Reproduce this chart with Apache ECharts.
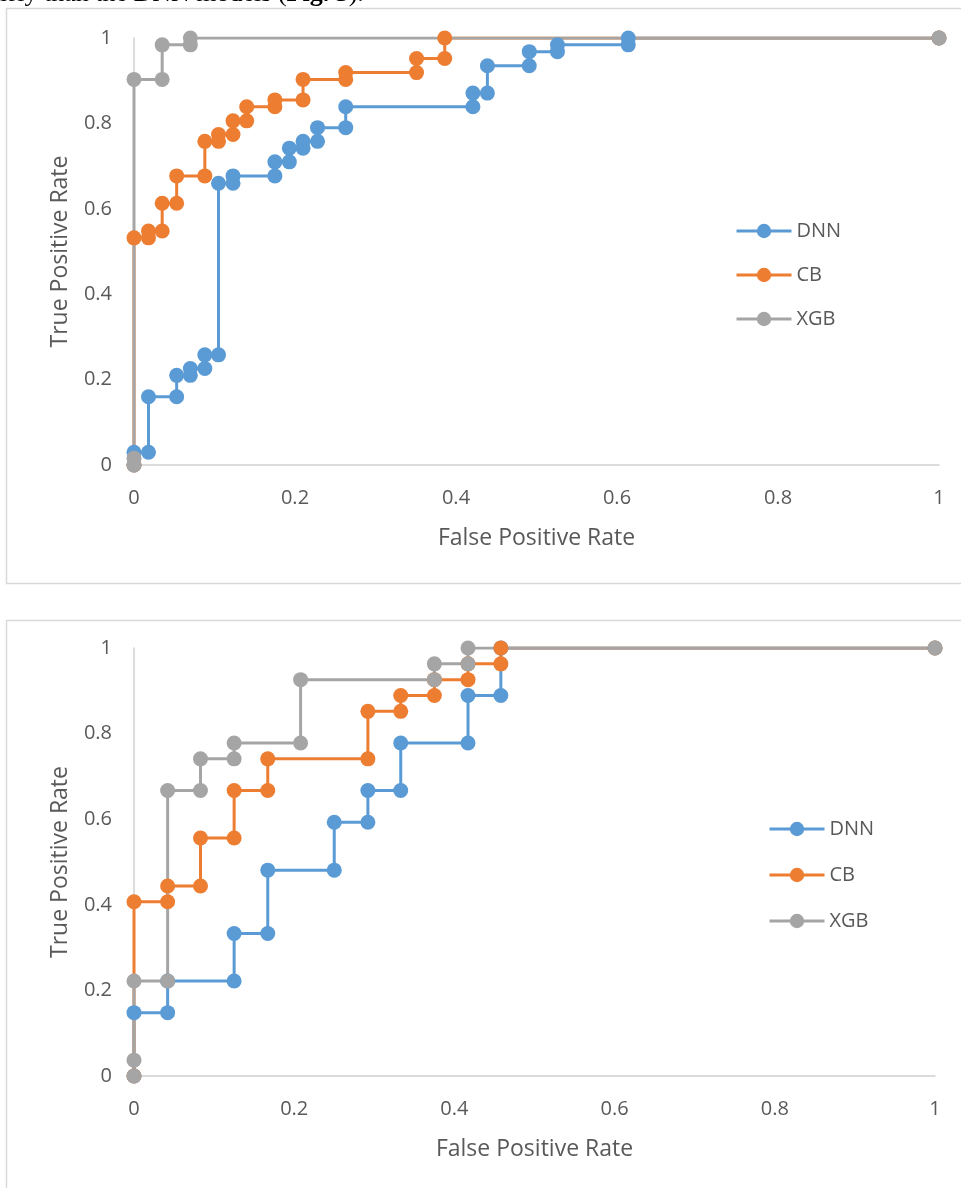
<!DOCTYPE html>
<html>
<head>
<meta charset="utf-8">
<script src="https://cdn.jsdelivr.net/npm/echarts@6/dist/echarts.min.js"></script>
<style>
  html, body { margin: 0; padding: 0; background: #fff; }
  #main { width: 961px; height: 1188px; }
</style>
</head>
<body>
<div id="main"></div>
<script>
// ROC points, [FPR, TPR]
// top panel
const dnnTop = [[0, 0], [0, 0.03], [0.018, 0.03], [0.018, 0.16], [0.053, 0.16], [0.053, 0.21],
    [0.07, 0.21], [0.07, 0.226], [0.088, 0.226], [0.088, 0.258], [0.105, 0.258], [0.105, 0.66],
    [0.123, 0.66], [0.123, 0.677], [0.175, 0.677], [0.175, 0.71], [0.193, 0.71], [0.193, 0.742],
    [0.21, 0.742], [0.21, 0.758], [0.228, 0.758], [0.228, 0.79], [0.263, 0.79], [0.263, 0.839],
    [0.421, 0.839], [0.421, 0.871], [0.439, 0.871], [0.439, 0.935], [0.491, 0.935], [0.491, 0.968],
    [0.526, 0.968], [0.526, 0.984], [0.614, 0.984], [0.614, 1], [1, 1]];
const cbTop = [[0, 0], [0, 0.532], [0.018, 0.532], [0.018, 0.548], [0.035, 0.548], [0.035, 0.613],
    [0.053, 0.613], [0.053, 0.677], [0.088, 0.677], [0.088, 0.758], [0.105, 0.758], [0.105, 0.774],
    [0.123, 0.774], [0.123, 0.806], [0.14, 0.806], [0.14, 0.839], [0.175, 0.839], [0.175, 0.855],
    [0.21, 0.855], [0.21, 0.903], [0.263, 0.903], [0.263, 0.919], [0.351, 0.919], [0.351, 0.952],
    [0.386, 0.952], [0.386, 1], [1, 1]];
const xgbTop = [[0, 0], [0, 0.016], [0, 0.903], [0.035, 0.903], [0.035, 0.984], [0.07, 0.984],
    [0.07, 1], [1, 1]];

// bottom panel
const dnnBottom = [[0, 0], [0, 0.148], [0.042, 0.148], [0.042, 0.222], [0.125, 0.222], [0.125, 0.333],
    [0.167, 0.333], [0.167, 0.481], [0.25, 0.481], [0.25, 0.593], [0.292, 0.593], [0.292, 0.667],
    [0.333, 0.667], [0.333, 0.778], [0.417, 0.778], [0.417, 0.889], [0.458, 0.889], [0.458, 1], [1, 1]];
const cbBottom = [[0, 0], [0, 0.407], [0.042, 0.407], [0.042, 0.444], [0.083, 0.444], [0.083, 0.556],
    [0.125, 0.556], [0.125, 0.667], [0.167, 0.667], [0.167, 0.741], [0.292, 0.741], [0.292, 0.852],
    [0.333, 0.852], [0.333, 0.889], [0.375, 0.889], [0.375, 0.926], [0.417, 0.926], [0.417, 0.963],
    [0.458, 0.963], [0.458, 1], [1, 1]];
const xgbBottom = [[0, 0], [0, 0.037], [0, 0.222], [0.042, 0.222], [0.042, 0.667], [0.083, 0.667],
    [0.083, 0.741], [0.125, 0.741], [0.125, 0.778], [0.208, 0.778], [0.208, 0.926], [0.375, 0.926],
    [0.375, 0.963], [0.417, 0.963], [0.417, 1], [1, 1]];

const names = ['DNN', 'CB', 'XGB'];
const colors = ['#5B9BD5', '#ED7D31', '#A5A5A5'];

const font = "'Open Sans', sans-serif";
const textColor = '#595959';

function xAxis(gridIndex) {
    return {
        gridIndex: gridIndex,
        type: 'value',
        min: 0, max: 1, interval: 0.2,
        name: 'False Positive Rate',
        nameLocation: 'middle',
        nameGap: 62,
        nameTextStyle: { color: textColor, fontSize: 23, fontFamily: font },
        axisLine: { show: true, lineStyle: { color: '#d0d0d0', width: 1.5 } },
        axisTick: { show: false },
        splitLine: { show: false },
        axisLabel: { color: textColor, fontSize: 20, fontFamily: font, margin: 23 }
    };
}

function yAxis(gridIndex) {
    return {
        gridIndex: gridIndex,
        type: 'value',
        min: 0, max: 1, interval: 0.2,
        name: 'True Positive Rate',
        nameLocation: 'middle',
        nameGap: 62,
        nameTextStyle: { color: textColor, fontSize: 23, fontFamily: font },
        axisLine: { show: true, lineStyle: { color: '#d0d0d0', width: 1.5 } },
        axisTick: { show: false },
        splitLine: { show: false },
        axisLabel: { color: textColor, fontSize: 20, fontFamily: font, margin: 22 }
    };
}

function rocSeries(name, data, idx) {
    const c = colors[names.indexOf(name)];
    return {
        name: name,
        type: 'line',
        xAxisIndex: idx,
        yAxisIndex: idx,
        data: data,
        symbol: 'circle',
        symbolSize: 15,
        showAllSymbol: true,
        lineStyle: { color: c, width: 3 },
        itemStyle: { color: c },
        emphasis: { disabled: true },
        animation: false
    };
}

const legendBase = {
    orient: 'vertical',
    padding: 0,
    itemWidth: 55,
    itemHeight: 18,
    itemGap: 24,
    lineStyle: { width: 3 },
    textStyle: { color: textColor, fontSize: 20, fontFamily: font },
    data: names
};

const chart = echarts.init(document.getElementById('main'), null, { renderer: 'canvas' });

chart.setOption({
    backgroundColor: '#ffffff',
    animation: false,
    color: colors,
    graphic: [
        {
            type: 'text', left: -3, top: -19,
            style: {
                rich: {
                    n: { fontFamily: "'Liberation Serif', serif", fontSize: 26, fill: '#000' },
                    b: { fontFamily: "'Liberation Serif', serif", fontSize: 26, fontWeight: 'bold', fill: '#000' }
                },
                text: '{n|erly than the DNN models (}{b|Fig. 3}{n|).}'
            }
        },
        {
            type: 'rect', shape: { x: 6.5, y: 8.5, width: 970, height: 575 },
            style: { fill: 'none', stroke: '#d9d9d9', lineWidth: 1.5 }, z: -1
        },
        {
            type: 'rect', shape: { x: 6.5, y: 620.5, width: 970, height: 600 },
            style: { fill: 'none', stroke: '#d9d9d9', lineWidth: 1.5 }, z: -1
        }
    ],
    grid: [
        { left: 134, top: 38, width: 805, height: 427 },
        { left: 134, top: 648, width: 801, height: 428 }
    ],
    xAxis: [xAxis(0), xAxis(1)],
    yAxis: [yAxis(0), yAxis(1)],
    legend: [
        Object.assign({}, legendBase, { left: 735, top: 221 }),
        Object.assign({}, legendBase, { left: 768, top: 819, itemGap: 26 })
    ],
    series: [
        rocSeries('DNN', dnnTop, 0),
        rocSeries('CB', cbTop, 0),
        rocSeries('XGB', xgbTop, 0),
        rocSeries('DNN', dnnBottom, 1),
        rocSeries('CB', cbBottom, 1),
        rocSeries('XGB', xgbBottom, 1)
    ]
});
</script>
</body>
</html>
